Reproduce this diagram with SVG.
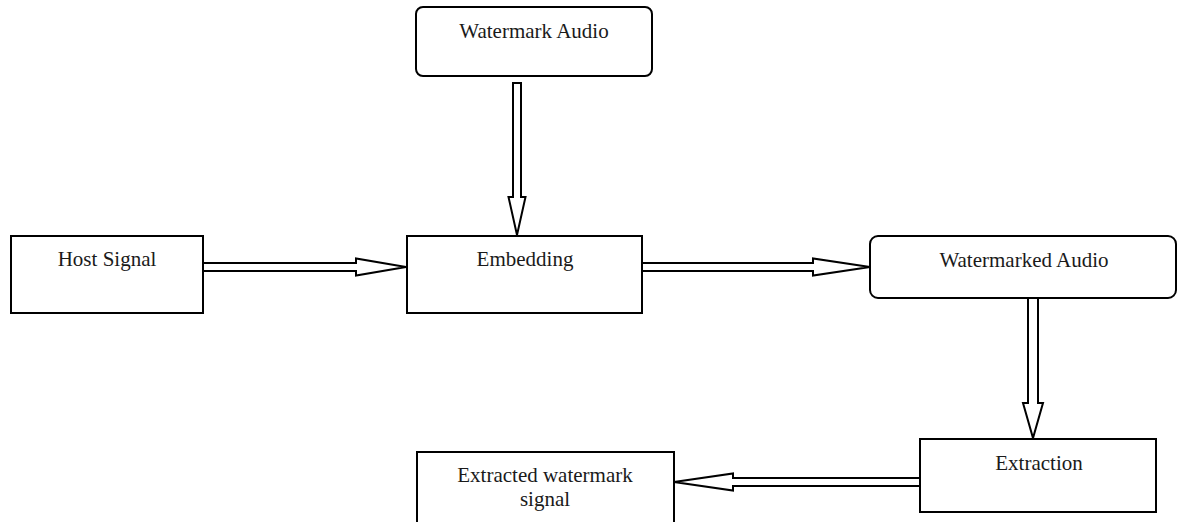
<svg xmlns="http://www.w3.org/2000/svg" width="1178" height="522" viewBox="0 0 1178 522">
<style>
.box{fill:#fff;stroke:#000;stroke-width:2}
.arr{fill:#fff;stroke:#000;stroke-width:2;stroke-linejoin:miter}
.lbl{font-family:"Liberation Serif","Times New Roman",serif;font-size:21px;fill:#1a1a1a;text-anchor:middle}
</style>
<rect width="1178" height="522" fill="#fff"/>
<g id="connectors">
<polygon class="arr" points="513,83 521,83 521,197 525.5,197 517,235 508.5,197 513,197"/>
<polygon class="arr" points="203,263 356,263 356,258.5 406,267 356,275.5 356,271 203,271"/>
<polygon class="arr" points="642,263 813,263 813,258.5 870,267 813,275.5 813,271 642,271"/>
<polygon class="arr" points="1028,298 1038,298 1038,403 1043,403 1033,438 1023,403 1028,403"/>
<polygon class="arr" points="920,478 733,478 733,473.5 674,482 733,490.5 733,486 920,486"/>
</g>
<g id="watermark-audio">
<rect class="box" x="416" y="7" width="236" height="69" rx="7"/>
<text class="lbl" x="534" y="38">Watermark Audio</text>
</g>
<g id="host-signal">
<rect class="box" x="11" y="236" width="192" height="77"/>
<text class="lbl" x="107" y="266">Host Signal</text>
</g>
<g id="embedding">
<rect class="box" x="407" y="236" width="235" height="77"/>
<text class="lbl" x="525" y="266">Embedding</text>
</g>
<g id="watermarked-audio">
<rect class="box" x="870" y="236" width="306" height="62" rx="8"/>
<text class="lbl" x="1024" y="267">Watermarked Audio</text>
</g>
<g id="extraction">
<rect class="box" x="920" y="439" width="236" height="73"/>
<text class="lbl" x="1039" y="470">Extraction</text>
</g>
<g id="extracted-watermark">
<rect class="box" x="417" y="452" width="257" height="80"/>
<text class="lbl" x="545" y="482">Extracted watermark</text>
<text class="lbl" x="545" y="506">signal</text>
</g>
</svg>
